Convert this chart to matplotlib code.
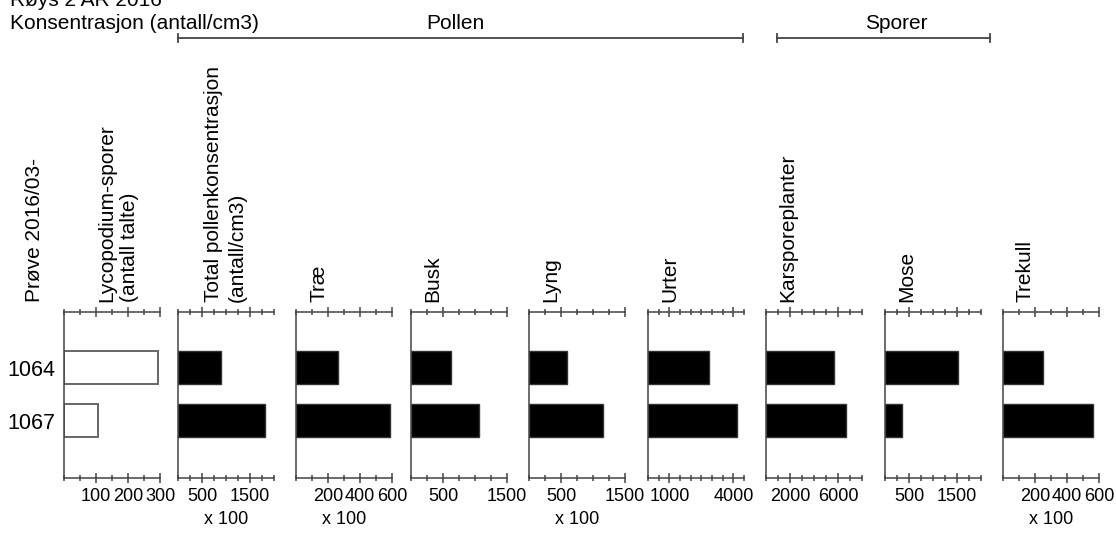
import matplotlib
matplotlib.use('Agg')
from matplotlib import pyplot as plt
from matplotlib.ticker import FixedLocator, MultipleLocator
import numpy as np

W, H = 1116, 534

samples = ['1064', '1067']

lycopodium = [294, 106]
total_pollen = [890, 1812]
trae = [264, 587]
busk = [630, 1055]
lyng = [592, 1149]
urter = [2877, 4155]
karsporeplanter = [5690, 6655]
mose = [1517, 360]
trekull = [253, 560]

titles = ['Lycopodium-sporer\n(antall talte)',
          'Total pollenkonsentrasjon\n(antall/cm3)',
          'Træ', 'Busk', 'Lyng', 'Urter',
          'Karsporeplanter', 'Mose', 'Trekull']
series = [lycopodium, total_pollen, trae, busk, lyng, urter,
          karsporeplanter, mose, trekull]
x_max = [300, 2000, 600, 1500, 1500, 4500, 8000, 2000, 600]
x_labels = [[100, 200, 300], [500, 1500], [200, 400, 600], [500, 1500],
            [500, 1500], [1000, 4000], [2000, 6000], [500, 1500],
            [200, 400, 600]]
x_minor = [50, 250, 100, 250, 250, 500, 1000, 250, 100]
times_100 = [False, True, True, False, True, False, False, False, True]

# panel left/right edges in pixels
panel_left = [64, 178, 296, 411, 529, 648, 766, 885, 1003]
panel_w = 96
top_px, bot_px = 312, 478
title_off = [54, 47, 23, 22, 22, 22, 22, 22, 22]

plt.rcParams['font.family'] = ['Liberation Sans', 'DejaVu Sans']
line_col = '#444444'

fig = plt.figure(figsize=(W / 100, H / 100), dpi=100)


def fx(px):
    return px / W


def fy(py):
    return 1 - py / H


ypos = np.arange(1, len(samples) + 1)

for i, vals in enumerate(series):
    ax = fig.add_axes([fx(panel_left[i]), fy(bot_px),
                       panel_w / W, (bot_px - top_px) / H])
    if i == 0:
        ax.barh(ypos, vals, height=0.62, color='white',
                edgecolor='#666666', linewidth=1.4)
    else:
        ax.barh(ypos, vals, height=0.62, color='black',
                edgecolor='#333333', linewidth=1)
    ax.set_xlim(0, x_max[i])
    ax.set_ylim(3.07, -0.04)
    ax.spines['right'].set_visible(False)
    for s in ['left', 'top', 'bottom']:
        ax.spines[s].set_color(line_col)
        ax.spines[s].set_linewidth(1.1)
    ax.xaxis.set_major_locator(FixedLocator(x_labels[i]))
    ax.xaxis.set_minor_locator(MultipleLocator(x_minor[i]))
    ax.tick_params(axis='x', which='both', top=True, direction='inout',
                   color=line_col, labelsize=13, pad=4)
    ax.tick_params(axis='x', which='major', length=7, width=1.1)
    ax.tick_params(axis='x', which='minor', length=5, width=1.1)
    if i == 0:
        ax.set_yticks(ypos)
        ax.set_yticklabels(samples, fontsize=15.5)
        ax.tick_params(axis='y', length=0, pad=6)
    else:
        ax.set_yticks([])
    if times_100[i]:
        ax.set_xlabel('x 100', fontsize=13, labelpad=4)
    fig.text(fx(panel_left[i] + title_off[i]), fy(302), titles[i],
             rotation=90, ha='center', va='bottom', fontsize=15,
             multialignment='left', linespacing=1.3)

fig.text(fx(34), fy(302), 'Prøve 2016/03-', rotation=90, ha='center',
         va='bottom', fontsize=15)

fig.text(fx(10), fy(6), 'Røys 2 AR 2016', ha='left', va='baseline',
         fontsize=15)
fig.text(fx(10), fy(29), 'Konsentrasjon (antall/cm3)', ha='left',
         va='baseline', fontsize=15)

# group brackets
for name, x0, x1, xt in [('Pollen', 178, 743, 455), ('Sporer', 777, 990, 896)]:
    fig.add_artist(plt.Line2D([fx(x0), fx(x1)], [fy(38), fy(38)],
                              color=line_col, linewidth=1.3))
    for xe in (x0, x1):
        fig.add_artist(plt.Line2D([fx(xe), fx(xe)], [fy(34), fy(42)],
                                  color=line_col, linewidth=1.3))
    fig.text(fx(xt), fy(29), name, ha='center', va='baseline', fontsize=15)

fig.savefig('out.png', dpi=100)
